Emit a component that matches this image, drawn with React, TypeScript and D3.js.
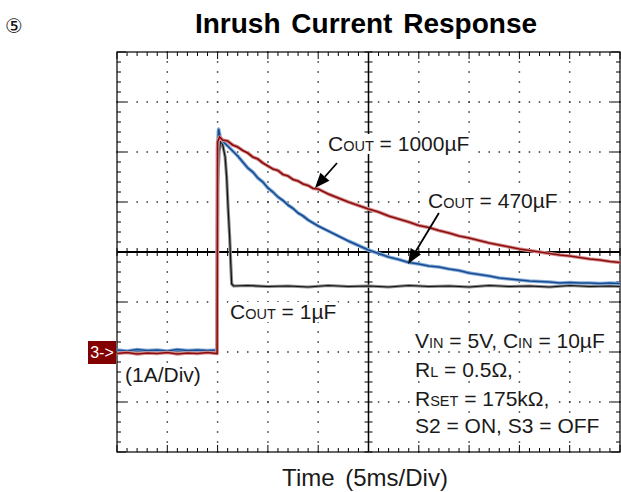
import React, { useRef, useEffect } from "react";
import * as d3 from "d3";

// time in ms (5 ms/div), current in A (1 A/div)
const cout1000: [number, number][] = [
  [0, -0.03], [1, -0.01], [2, -0.04], [3, -0.02], [4, -0.03], [5, -0.01], [6, -0.04],
  [7, -0.02], [8, -0.03], [9, -0.01], [9.95, -0.03],
  [10.0, 4.2], [10.2, 4.3], [10.5, 4.24], [11, 4.22], [11.5, 4.14], [12, 4.1], [12.5, 4.03],
  [13, 3.98], [13.5, 3.9], [14, 3.86], [14.5, 3.78], [15, 3.72], [15.5, 3.66], [16, 3.63],
  [16.5, 3.55], [17, 3.52], [17.5, 3.45], [18, 3.42], [18.5, 3.36], [19, 3.33], [19.5, 3.27],
  [20, 3.26], [21, 3.16], [22, 3.08], [23, 3.0], [24, 2.93], [25, 2.86], [26, 2.8], [27, 2.72],
  [28, 2.66], [29, 2.6], [30, 2.53], [31, 2.49], [32, 2.43], [33, 2.38], [34, 2.32], [35, 2.28],
  [36, 2.23], [37, 2.18], [38, 2.14], [39, 2.1], [40, 2.06], [41, 2.03], [42, 2.0], [43, 1.97],
  [44, 1.94], [45, 1.92], [46, 1.89], [47, 1.86], [48, 1.84], [49, 1.81], [50, 1.79],
];

const cout470: [number, number][] = [
  [0, 0.04], [1, 0.02], [2, 0.05], [3, 0.03], [4, 0.04], [5, 0.02], [6, 0.05], [7, 0.03],
  [8, 0.04], [9, 0.03], [9.95, 0.04],
  [10.0, 4.1], [10.1, 4.46], [10.25, 4.3], [10.5, 4.22], [11, 4.12], [11.5, 4.02], [12, 3.92],
  [12.5, 3.8], [13, 3.68], [13.5, 3.6], [14, 3.48], [14.5, 3.4], [15, 3.28], [15.5, 3.2],
  [16, 3.1], [16.5, 3.03], [17, 2.94], [17.5, 2.87], [18, 2.78], [18.5, 2.72], [19, 2.64],
  [19.5, 2.58], [20, 2.52], [21, 2.42], [22, 2.32], [23, 2.22], [24, 2.13], [25, 2.04],
  [26, 1.97], [27, 1.9], [28, 1.85], [29, 1.79], [30, 1.76], [31, 1.72], [32, 1.7], [33, 1.66],
  [34, 1.63], [35, 1.58], [36, 1.55], [37, 1.52], [38, 1.48], [39, 1.46], [40, 1.44],
  [41, 1.42], [42, 1.41], [43, 1.4], [44, 1.38], [45, 1.39], [46, 1.38], [47, 1.38],
  [48, 1.37], [49, 1.38], [50, 1.37],
];

const cout1: [number, number][] = [
  [0, 0], [9.95, 0],
  [10.0, 3.3], [10.15, 4.0], [10.3, 4.22], [10.5, 4.15], [10.75, 3.9], [10.9, 3.5],
  [11.05, 2.85], [11.2, 2.3], [11.3, 1.8], [11.4, 1.36], [11.6, 1.32], [13, 1.33], [15, 1.31],
  [17, 1.32], [19, 1.3], [21, 1.33], [23, 1.31], [25, 1.32], [27, 1.3], [29, 1.33], [31, 1.31],
  [33, 1.32], [35, 1.3], [37, 1.33], [39, 1.31], [41, 1.32], [43, 1.3], [45, 1.33], [47, 1.31],
  [49, 1.32], [50, 1.31],
];

// scope screen: 10 x 5 ms, 8 x 1 A, zero marker two divs below centre
const timeDomain: [number, number] = [0, 50];
const ampDomain: [number, number] = [-2, 6];

// annotation text: [main, subscript] runs
type Run = [string, boolean];
const labels: { x: number; y: number; runs: Run[] }[] = [
  { x: 328, y: 151, runs: [["C", false], ["OUT", true], [" = 1000µF", false]] },
  { x: 428, y: 208, runs: [["C", false], ["OUT", true], [" = 470µF", false]] },
  { x: 230, y: 319, runs: [["C", false], ["OUT", true], [" = 1µF", false]] },
  { x: 125, y: 382, runs: [["(1A/Div)", false]] },
  { x: 415, y: 348, runs: [["V", false], ["IN", true], [" = 5V, C", false], ["IN", true], [" = 10µF", false]] },
  { x: 415, y: 377, runs: [["R", false], ["L", true], [" = 0.5Ω,", false]] },
  { x: 415, y: 406, runs: [["R", false], ["SET", true], [" = 175kΩ,", false]] },
  { x: 415, y: 433, runs: [["S2 = ON, S3 = OFF", false]] },
];

const FONT = "Arial, 'Liberation Sans', sans-serif";

const App: React.FC = () => {
  const gRef = useRef<SVGGElement | null>(null);

  useEffect(() => {
    if (!gRef.current) return;
    const g = d3.select(gRef.current);
    g.selectAll("*").remove();

    const x = d3.scaleLinear().domain(timeDomain).range([117, 620]);
    const y = d3.scaleLinear().domain(ampDomain).range([452, 52]);

    const majorX = d3.range(0, 51, 5);
    const majorY = d3.range(-2, 7, 1);
    const minorX = d3.range(0, 50.01, 1);
    const minorY = d3.range(-2, 6.01, 0.2);

    // dotted graticule
    const dots = g.append("g").attr("fill", "#333");
    majorX.filter((v) => v > 0 && v < 50 && v !== 25).forEach((xv) => {
      minorY.forEach((yv) => {
        dots.append("rect").attr("x", x(xv) - 0.75).attr("y", y(yv) - 0.75)
          .attr("width", 1.5).attr("height", 1.5);
      });
    });
    majorY.filter((v) => v > -2 && v < 6 && v !== 2).forEach((yv) => {
      minorX.forEach((xv) => {
        dots.append("rect").attr("x", x(xv) - 0.75).attr("y", y(yv) - 0.75)
          .attr("width", 1.5).attr("height", 1.5);
      });
    });

    const axes = g.append("g").attr("stroke", "#000").attr("fill", "none");

    // frame
    axes.append("rect")
      .attr("x", x(0)).attr("y", y(6))
      .attr("width", x(50) - x(0)).attr("height", y(-2) - y(6))
      .attr("stroke-width", 1.2);

    // frame ticks
    minorX.forEach((xv) => {
      const len = xv % 5 === 0 ? 7 : 4;
      axes.append("line").attr("x1", x(xv)).attr("x2", x(xv))
        .attr("y1", y(6)).attr("y2", y(6) + len);
      axes.append("line").attr("x1", x(xv)).attr("x2", x(xv))
        .attr("y1", y(-2)).attr("y2", y(-2) - len);
    });
    minorY.forEach((yv) => {
      const len = Math.abs(yv - Math.round(yv)) < 1e-6 ? 9 : 4;
      axes.append("line").attr("y1", y(yv)).attr("y2", y(yv))
        .attr("x1", x(0)).attr("x2", x(0) + len);
      axes.append("line").attr("y1", y(yv)).attr("y2", y(yv))
        .attr("x1", x(50)).attr("x2", x(50) - len);
    });

    // centre cross
    axes.append("line").attr("x1", x(0)).attr("x2", x(50))
      .attr("y1", y(2)).attr("y2", y(2)).attr("stroke-width", 1.8);
    axes.append("line").attr("x1", x(25)).attr("x2", x(25))
      .attr("y1", y(6)).attr("y2", y(-2)).attr("stroke-width", 1.5);
    minorX.forEach((xv) => {
      axes.append("line").attr("x1", x(xv)).attr("x2", x(xv))
        .attr("y1", y(2) - 4).attr("y2", y(2) + 4);
    });
    minorY.forEach((yv) => {
      axes.append("line").attr("y1", y(yv)).attr("y2", y(yv))
        .attr("x1", x(25) - 4).attr("x2", x(25) + 4);
    });

    // annotations knock out the graticule behind them
    const lab = g.append("g");
    labels.forEach((l) => {
      const bg = lab.append("rect").attr("fill", "#fff");
      const t = lab.append("text").attr("x", l.x).attr("y", l.y)
        .attr("font-family", FONT).attr("font-size", 21).attr("fill", "#1a1a1a");
      l.runs.forEach(([s, sub]) => {
        t.append("tspan").attr("font-size", sub ? 14.5 : 21).text(s);
      });
      const bb = (t.node() as SVGTextElement).getBBox();
      bg.attr("x", bb.x - 2).attr("y", bb.y + 2).attr("width", bb.width + 4).attr("height", bb.height - 3);
    });

    // traces
    const line = d3.line<[number, number]>()
      .x((d) => x(d[0]))
      .y((d) => y(d[1]));

    const traces = [
      { data: cout1, halo: "#8a8a8a", color: "#111111", w: 1.2 },
      { data: cout470, halo: "#86acd8", color: "#174c92", w: 1.6 },
      { data: cout1000, halo: "#d39393", color: "#8e0b0b", w: 1.6 },
    ];
    traces.forEach((t) => {
      g.append("path").datum(t.data).attr("d", line)
        .attr("fill", "none").attr("stroke", t.halo).attr("stroke-width", t.w + 2)
        .attr("stroke-linejoin", "round");
      g.append("path").datum(t.data).attr("d", line)
        .attr("fill", "none").attr("stroke", t.color).attr("stroke-width", t.w)
        .attr("stroke-linejoin", "miter");
    });

    // arrows
    const arrow = (from: [number, number], to: [number, number]) => {
      const x0 = x(from[0]), y0 = y(from[1]);
      const x1 = x(to[0]), y1 = y(to[1]);
      const dx = x1 - x0, dy = y1 - y0;
      const L = Math.hypot(dx, dy);
      const ux = dx / L, uy = dy / L;
      const headLen = 15, headW = 6;
      const bx = x1 - ux * headLen, by = y1 - uy * headLen;
      g.append("line").attr("x1", x0).attr("y1", y0).attr("x2", bx).attr("y2", by)
        .attr("stroke", "#000").attr("stroke-width", 1.8);
      g.append("path")
        .attr("d", `M${x1},${y1}L${bx - uy * headW},${by + ux * headW}L${bx + uy * headW},${by - ux * headW}Z`)
        .attr("fill", "#000");
    };
    arrow([21.87, 3.78], [19.68, 3.28]);
    arrow([32.0, 2.78], [28.93, 1.76]);

    // ground marker
    const mk = g.append("g");
    mk.append("rect").attr("x", 88).attr("y", y(0) - 11).attr("width", 28).attr("height", 23)
      .attr("fill", "#820000");
    mk.append("text").attr("x", 102).attr("y", y(0) + 5.5).attr("text-anchor", "middle")
      .attr("fill", "#fff").attr("font-size", 16).attr("font-family", FONT).text("3->");
  }, []);

  return (
    <svg width={621} height={492} style={{ position: "absolute", left: 0, top: 0 }}>
      <rect width={621} height={492} fill="#fff" />
      <text x={5} y={33} fontSize={20} fontFamily="'DejaVu Sans', sans-serif" fill="#111">⑤</text>
      <text x={366} y={33} textAnchor="middle" fontSize={28} fontWeight="bold"
        fontFamily={FONT} fill="#000" wordSpacing={3}>Inrush Current Response</text>
      <g ref={gRef} />
      <text x={365} y={486} textAnchor="middle" fontSize={24} fontFamily={FONT}
        fill="#1a1a1a" wordSpacing={4}>
        Time (5ms/Div)
      </text>
    </svg>
  );
};

export default App;
